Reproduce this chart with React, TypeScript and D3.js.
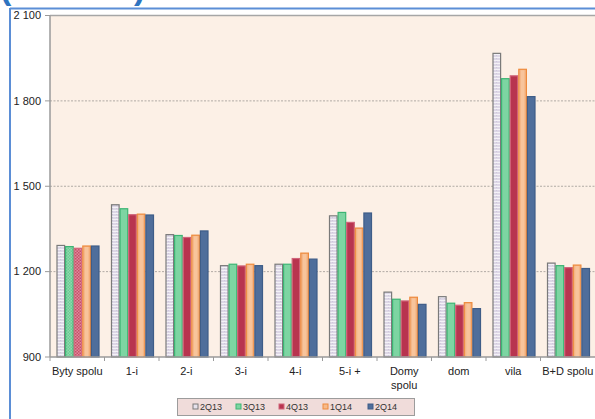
import React from "react";
import * as d3 from "d3";

const categories = ["Byty spolu", "1-i", "2-i", "3-i", "4-i", "5-i +", "Domy spolu", "dom", "vila", "B+D spolu"];
const seriesNames = ["2Q13", "3Q13", "4Q13", "1Q14", "2Q14"];
const s2Q13 = [1292, 1435, 1330, 1221, 1226, 1396, 1128, 1112, 1967, 1230];
const s3Q13 = [1288, 1421, 1327, 1226, 1226, 1408, 1103, 1089, 1878, 1221];
const s4Q13 = [1282, 1400, 1320, 1220, 1246, 1373, 1097, 1082, 1888, 1214];
const s1Q14 = [1290, 1402, 1328, 1226, 1265, 1353, 1110, 1091, 1911, 1223];
const s2Q14 = [1290, 1399, 1343, 1221, 1244, 1406, 1085, 1070, 1815, 1211];
const yTicks = [900, 1200, 1500, 1800, 2100];
const yTickLabels = ["900", "1 200", "1 500", "1 800", "2 100"];

const seriesValues = [s2Q13, s3Q13, s4Q13, s1Q14, s2Q14];
const fills = ["url(#pLav)", "#7dd5a2", "#b8344f", "url(#pOrange)", "#4f6e9b"];
const strokes = ["#7a7a7a", "#3cb574", "#d0647a", "#ee8a3c", "#3e5d88"];
const legendFills = ["#e6e2ec", "#7dd5a2", "#b8344f", "#f6ba8a", "#4f6e9b"];

export default function App() {
  const W = 595, H = 419;
  const left = 50, right = 595, top = 15.5, bottom = 357;
  const x = d3.scaleBand<string>().domain(categories).range([left, right]).padding(0);
  const inner = d3.scaleBand<string>().domain(seriesNames).range([6.5, 49.5]).padding(0);
  const y = d3.scaleLinear().domain([900, 2100]).range([bottom, top]);
  const step = x.step();

  return (
    <svg width={W} height={H} style={{ position: "absolute", left: 0, top: 0 }} fontFamily="Arial, 'Liberation Sans', sans-serif">
      <defs>
        <pattern id="pLav" width="4" height="3" patternUnits="userSpaceOnUse">
          <rect width="4" height="3" fill="#ddd7e6" />
          <rect y="0" width="4" height="1" fill="#f4f2f7" />
          <rect x="0" y="1" width="1" height="1" fill="#cfc8dc" />
        </pattern>
        <pattern id="pOrange" width="9" height="4" patternUnits="userSpaceOnUse" patternTransform="translate(0,0)">
          <rect width="9" height="4" fill="#f4b585" />
        </pattern>
        <pattern id="pPink" width="3" height="3" patternUnits="userSpaceOnUse">
          <rect width="3" height="3" fill="#de8a9c" />
          <rect width="1.5" height="1.5" fill="#c84e68" />
          <rect x="1.5" y="1.5" width="1.5" height="1.5" fill="#c84e68" />
        </pattern>
        <pattern id="pGreen" width="3" height="3" patternUnits="userSpaceOnUse">
          <rect width="3" height="3" fill="#8edcae" />
          <rect width="1.5" height="1.5" fill="#6cc994" />
          <rect x="1.5" y="1.5" width="1.5" height="1.5" fill="#6cc994" />
        </pattern>
      </defs>
      <rect x={0} y={0} width={W} height={H} fill="#ffffff" />
      <text x={0} y={-1} fontSize={34} fontWeight="bold" fill="#2e74c0">(EUR/m²)</text>
      {/* blue frame */}
      <line x1={10} y1={8.5} x2={W} y2={8.5} stroke="#5b8ed6" strokeWidth={2} />
      <line x1={10} y1={8} x2={10} y2={H} stroke="#5b8ed6" strokeWidth={2} />
      {/* plot background */}
      <rect x={left} y={top} width={right - left} height={bottom - top} fill="#fcf0e6" />
      <line x1={left} y1={top} x2={right} y2={top} stroke="#a6a6a6" strokeWidth={1.5} />
      {/* gridlines */}
      {yTicks.filter(t => t !== 900 && t !== 2100).map(t => (
        <line key={t} x1={left} x2={right} y1={y(t)} y2={y(t)} stroke="#b0aaa4" strokeWidth={1} strokeDasharray="2,1.5" />
      ))}
      {/* bars */}
      {categories.map((c, ci) => (
        <g key={c}>
          {seriesNames.map((s, si) => {
            const v = seriesValues[si][ci];
            const bx = (x(c) as number) + (inner(s) as number);
            const bw = inner.bandwidth();
            let fill = fills[si];
            if (ci === 0 && si === 2) fill = "url(#pPink)";
            if (ci === 0 && si === 1) fill = "url(#pGreen)";
            return (
              <g key={s}>
                <rect x={bx + 0.5} y={y(v)} width={bw - 1} height={bottom - y(v)} fill={fill} stroke={strokes[si]} strokeWidth={1.2} />
                {si === 3 && (
                  <rect x={bx + 2.5} y={y(v) + 1} width={bw - 5} height={bottom - y(v) - 1} fill="#f9cba4" opacity={0.7} />
                )}
              </g>
            );
          })}
        </g>
      ))}
      {/* axes */}
      <line x1={left} y1={top} x2={left} y2={bottom} stroke="#9a9a9a" strokeWidth={1.5} />
      <line x1={left} y1={bottom} x2={right} y2={bottom} stroke="#9a9a9a" strokeWidth={1.5} />
      {yTicks.map((t, i) => (
        <g key={t}>
          <line x1={left - 5} x2={left} y1={y(t)} y2={y(t)} stroke="#9a9a9a" strokeWidth={1} />
          <text x={41} y={y(t)} dy="0.35em" textAnchor="end" fontSize={11} fill="#222">{yTickLabels[i]}</text>
        </g>
      ))}
      {categories.map((c, i) => (
        <line key={"t" + c} x1={left + i * step} x2={left + i * step} y1={bottom} y2={bottom + 4} stroke="#9a9a9a" strokeWidth={1} />
      ))}
      {categories.map((c) => {
        const cx = (x(c) as number) + step / 2;
        const parts = c === "Domy spolu" ? ["Domy", "spolu"] : [c];
        return (
          <text key={"l" + c} x={cx} y={375} textAnchor="middle" fontSize={11} fill="#222">
            {parts.map((p, k) => (
              <tspan key={k} x={cx} dy={k === 0 ? 0 : 14}>{p}</tspan>
            ))}
          </text>
        );
      })}
      {/* legend */}
      <rect x={177.5} y={398.5} width={237} height={17} fill="#f0dcda" stroke="#9c9c9c" strokeWidth={1} />
      {seriesNames.map((s, i) => {
        const lx = [193, 236, 279, 323, 368][i];
        return (
          <g key={"lg" + s}>
            <rect x={lx} y={404} width={5} height={5} fill={legendFills[i]} stroke={strokes[i]} strokeWidth={1} />
            <text x={lx + 7} y={407} dy="0.35em" fontSize={9} fill="#333">{s}</text>
          </g>
        );
      })}
    </svg>
  );
}
